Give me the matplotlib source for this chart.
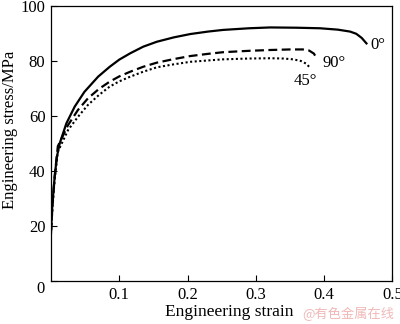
import matplotlib.pyplot as plt

# 0 deg (solid)
strain_0 = [0, 0.002, 0.0054, 0.0085, 0.0127, 0.0225, 0.0347, 0.049, 0.069, 0.086,
            0.1, 0.116, 0.135, 0.155, 0.18, 0.204, 0.23, 0.252, 0.29, 0.321,
            0.36, 0.394, 0.42, 0.438, 0.447, 0.455, 0.462]
stress_0 = [18, 28, 38, 45, 50, 57.3, 63.4, 68.8, 74.3, 77.9,
            80.5, 82.8, 85.2, 87.0, 88.6, 89.8, 90.7, 91.3, 91.9, 92.2,
            92.1, 91.9, 91.4, 90.7, 89.9, 88.4, 86.4]

# 90 deg (dashed)
strain_90 = [0, 0.002, 0.005, 0.010, 0.025, 0.0395, 0.054, 0.07, 0.086, 0.1, 0.116,
             0.135, 0.155, 0.18, 0.204, 0.23, 0.252, 0.29, 0.321, 0.35, 0.369,
             0.378, 0.385, 0.389]
stress_90 = [18, 27, 37, 49, 56.7, 62.2, 66.4, 69.8, 72.5, 74.4, 76.1,
             77.9, 79.4, 80.7, 81.8, 82.6, 83.2, 83.7, 84.0, 84.2, 84.2,
             83.8, 82.7, 81.0]

# 45 deg (dotted)
strain_45 = [0, 0.002, 0.005, 0.010, 0.025, 0.0395, 0.054, 0.07, 0.086, 0.1, 0.116,
             0.135, 0.155, 0.18, 0.204, 0.23, 0.252, 0.29, 0.321, 0.34, 0.355,
             0.366, 0.374, 0.378]
stress_45 = [17, 26, 36, 47, 54.9, 59.7, 64, 67.6, 70.7, 72.6, 74.3,
             76.1, 77.7, 78.8, 79.7, 80.2, 80.6, 80.9, 81.0, 80.9, 80.6,
             80.0, 79.0, 77.9]

x_ticks = [0.1, 0.2, 0.3, 0.4, 0.5]
y_ticks = [0, 20, 40, 60, 80, 100]

plt.rcParams['font.family'] = ['Liberation Serif', 'DejaVu Serif']

fig = plt.figure(figsize=(4, 3.24), dpi=100)
ax = fig.add_axes([0.1275, 0.1327, 0.8535, 0.8488])

ax.plot(strain_0, stress_0, color='black', lw=1.6, ls='-')
ax.plot(strain_90, stress_90, color='black', lw=1.6, ls=(0, (4, 2)))
ax.plot(strain_45, stress_45, color='black', lw=1.5, ls=(0, (1, 1.2)))

ax.text(0.479, 85.8, '0°', fontsize=12, ha='center', va='center')
ax.text(0.414, 79.3, '90°', fontsize=12, ha='center', va='center')
ax.text(0.372, 72.9, '45°', fontsize=12, ha='center', va='center')

ax.set_xlim(0, 0.5)
ax.set_ylim(0, 100)
ax.set_xticks(x_ticks)
ax.set_xticklabels([str(t) for t in x_ticks])
ax.set_yticks(y_ticks)
ax.set_yticklabels([''] + [str(t) for t in y_ticks[1:]])
ax.tick_params(direction='in', length=4, width=0.8, labelsize=12, pad=4)
ax.text(-0.016, -3, '0', fontsize=12, ha='center', va='center')

for s in ax.spines.values():
    s.set_linewidth(0.9)

# axis titles placed where the reference has them
fig.text(229.5 / 400, 1 - 312 / 324, 'Engineering strain', fontsize=12.5,
         ha='center', va='center')
fig.text(10 / 400, 1 - 130 / 324, 'Engineering stress/MPa', fontsize=12,
         rotation=90, ha='center', va='center')

fig.text(0.985, 0.03, '@有色金属在线', fontsize=9.5, color='#f0b8b8',
         ha='right', va='center', family=['Noto Sans CJK SC', 'DejaVu Sans'])

fig.savefig('out.png', dpi=100)
